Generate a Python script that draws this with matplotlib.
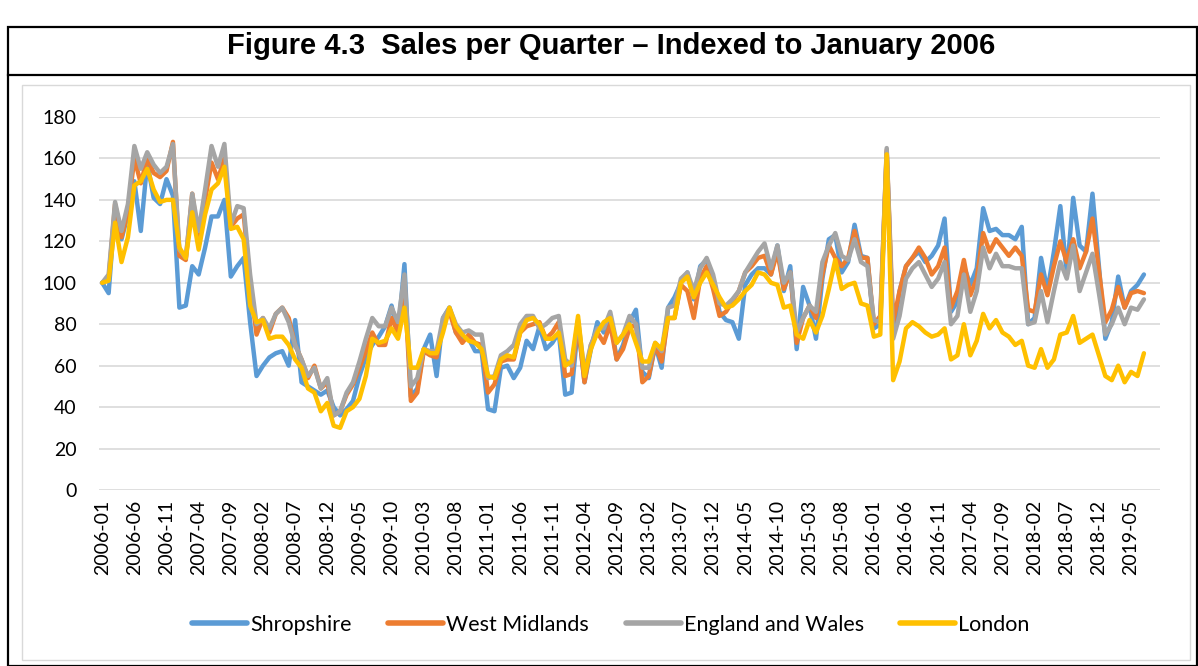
import numpy as np
import pandas as pd
import matplotlib
matplotlib.use("Agg")
import matplotlib.pyplot as plt
from matplotlib.patches import Rectangle
from matplotlib.lines import Line2D

# ---------------- data (monthly index, Jan 2006 = 100) ----------------
shropshire = [
    100, 95, 136, 121, 133, 149, 125, 158, 141, 138, 150, 142, 88, 89, 108, 104, 117, 132, 132, 140, 103, 108, 112, 81, 55,
    60, 64, 66, 67, 60, 82, 52, 50, 48, 46, 48, 40, 36, 39, 43, 55, 64, 70, 74, 79, 89, 75, 109, 45,
    49, 68, 75, 55, 83, 88, 76, 73, 73, 67, 67, 39, 38, 59, 60, 54, 59, 72, 68, 79, 68, 71, 76, 46,
    47, 80, 52, 68, 81, 76, 84, 63, 70, 81, 87, 57, 54, 70, 59, 88, 93, 100, 105, 92, 108, 111, 102, 86,
    82, 81, 73, 99, 104, 107, 107, 104, 118, 96, 108, 68, 98, 89, 73, 102, 121, 123, 105, 110, 128, 113, 112, 78,
    80, 163, 75, 96, 108, 112, 115, 110, 113, 118, 131, 86, 91, 108, 99, 107, 136, 125, 126, 123, 123, 121, 127, 80,
    83, 112, 96, 115, 137, 104, 141, 118, 115, 143, 108, 73, 81, 103, 88, 96, 99, 104,
]
west_midlands = [
    100, 102, 138, 122, 135, 160, 148, 160, 153, 151, 154, 168, 113, 111, 143, 120, 140, 158, 150, 160, 127, 131, 133, 100, 75,
    83, 76, 85, 88, 83, 70, 63, 54, 60, 49, 52, 36, 38, 46, 51, 59, 67, 76, 70, 70, 83, 76, 100, 43,
    47, 67, 65, 64, 80, 86, 76, 71, 75, 71, 70, 47, 51, 62, 63, 63, 76, 79, 80, 81, 73, 76, 81, 55,
    56, 80, 52, 70, 76, 71, 80, 63, 68, 78, 80, 52, 55, 70, 62, 83, 83, 99, 96, 83, 102, 108, 97, 84,
    86, 91, 96, 105, 108, 112, 113, 104, 115, 97, 105, 71, 83, 89, 83, 104, 118, 112, 108, 112, 125, 112, 112, 80,
    84, 164, 81, 96, 108, 112, 117, 112, 104, 108, 117, 88, 96, 111, 94, 102, 124, 115, 121, 117, 113, 117, 113, 87,
    86, 104, 94, 108, 120, 110, 121, 107, 115, 131, 106, 81, 87, 98, 88, 95, 96, 95,
]
england_wales = [
    100, 104, 139, 125, 138, 166, 155, 163, 157, 153, 156, 167, 116, 112, 143, 125, 145, 166, 156, 167, 128, 137, 136, 104, 80,
    83, 78, 85, 88, 81, 70, 63, 55, 59, 49, 54, 36, 38, 47, 52, 62, 73, 83, 79, 79, 88, 81, 104, 50,
    54, 68, 67, 67, 83, 88, 80, 76, 77, 75, 75, 54, 55, 65, 67, 70, 80, 84, 84, 78, 80, 83, 84, 63,
    60, 82, 57, 70, 78, 78, 86, 71, 75, 84, 80, 59, 59, 71, 67, 88, 89, 102, 105, 96, 107, 112, 104, 90,
    89, 92, 96, 105, 110, 115, 119, 107, 118, 100, 105, 76, 83, 89, 86, 110, 118, 124, 113, 111, 121, 110, 108, 82,
    81, 165, 73, 84, 102, 107, 110, 104, 98, 102, 110, 80, 84, 104, 86, 96, 117, 107, 114, 108, 108, 107, 107, 80,
    81, 96, 81, 96, 110, 102, 118, 96, 105, 114, 95, 75, 80, 88, 80, 88, 87, 92,
]
london = [
    100, 101, 129, 110, 122, 147, 149, 155, 145, 139, 140, 140, 117, 112, 134, 116, 133, 145, 148, 156, 126, 127, 121, 89, 81,
    82, 73, 74, 74, 70, 63, 59, 49, 47, 38, 42, 31, 30, 38, 40, 44, 55, 73, 71, 72, 78, 73, 88, 59,
    59, 68, 66, 66, 76, 88, 79, 75, 72, 71, 68, 55, 54, 63, 65, 64, 76, 82, 83, 80, 73, 73, 76, 60,
    62, 84, 55, 68, 76, 81, 83, 71, 75, 80, 71, 62, 62, 71, 68, 83, 83, 100, 103, 93, 100, 105, 99, 93,
    88, 89, 92, 96, 99, 105, 104, 100, 99, 88, 89, 75, 73, 82, 76, 84, 97, 111, 97, 99, 100, 90, 89, 74,
    75, 162, 53, 62, 78, 81, 79, 76, 74, 75, 78, 63, 65, 80, 65, 72, 85, 78, 82, 76, 74, 70, 72, 60,
    59, 68, 59, 63, 75, 76, 84, 71, 73, 75, 65, 55, 53, 60, 52, 57, 55, 66,
]

series_names = ["Shropshire", "West Midlands", "England and Wales", "London"]
series_colors = ["#5B9BD5", "#ED7D31", "#A5A5A5", "#FFC000"]

months = pd.period_range("2006-01", periods=165, freq="M").strftime("%Y-%m").tolist()
tick_positions = list(range(0, 161, 5))
tick_labels = [months[i] for i in tick_positions]
y_ticks = list(range(0, 181, 20))
title = "Figure 4.3  Sales per Quarter \u2013 Indexed to January 2006"

# ---------------- figure ----------------
W, H = 1198, 666
plt.rcParams["font.family"] = ["Lato", "DejaVu Sans"]
fig = plt.figure(figsize=(W / 100, H / 100), dpi=100)
fig.patch.set_facecolor("white")


def fx(px):
    return px / W


def fy(py):
    return 1 - py / H


# outer black frame + title separator
fig.add_artist(Rectangle((fx(8), fy(666)), fx(1197) - fx(8), fy(27) - fy(666),
                         transform=fig.transFigure, fill=False, edgecolor="black", lw=1.6))
fig.add_artist(Line2D([fx(8), fx(1197)], [fy(75), fy(75)], transform=fig.transFigure,
                      color="black", lw=1.6))
# inner light chart frame
fig.add_artist(Rectangle((fx(22), fy(660)), fx(1190) - fx(22), fy(85) - fy(660),
                         transform=fig.transFigure, fill=False, edgecolor="#D9D9D9", lw=1.0))

fig.text(fx(611), fy(46), title, ha="center", va="center", fontsize=21,
         fontweight="bold", family=["Liberation Sans", "DejaVu Sans"])

ax = fig.add_axes([fx(99), fy(490), fx(1160) - fx(99), fy(117) - fy(490)])
ax.set_facecolor("white")

for vals, name, col in zip([shropshire, west_midlands, england_wales, london],
                           series_names, series_colors):
    ax.plot(np.arange(len(vals)), vals, color=col, lw=3.2, label=name,
            solid_joinstyle="round", solid_capstyle="round", zorder=3)

ax.set_xlim(-0.5, 164.5)
ax.set_ylim(0, 180)
ax.set_yticks(y_ticks)
ax.set_yticklabels([str(v) for v in y_ticks], fontsize=14)
ax.set_xticks(tick_positions)
ax.set_xticklabels(tick_labels, rotation=90, fontsize=14)
ax.tick_params(axis="both", length=0, colors="black")
ax.tick_params(axis="y", pad=16)
ax.tick_params(axis="x", pad=7)
ax.grid(axis="y", color="#D9D9D9", lw=1.2, zorder=0)
ax.set_axisbelow(True)
for s in ax.spines.values():
    s.set_visible(False)

handles = [Line2D([0], [0], color=c, lw=4.0, solid_capstyle="round") for c in series_colors]
fig.legend(handles, series_names, loc="center", bbox_to_anchor=(fx(611), fy(625)), ncol=4,
           frameon=False, fontsize=15.5, handlelength=2.55, handletextpad=0.14,
           columnspacing=1.7)

fig.savefig("out.png", dpi=100, facecolor="white")
